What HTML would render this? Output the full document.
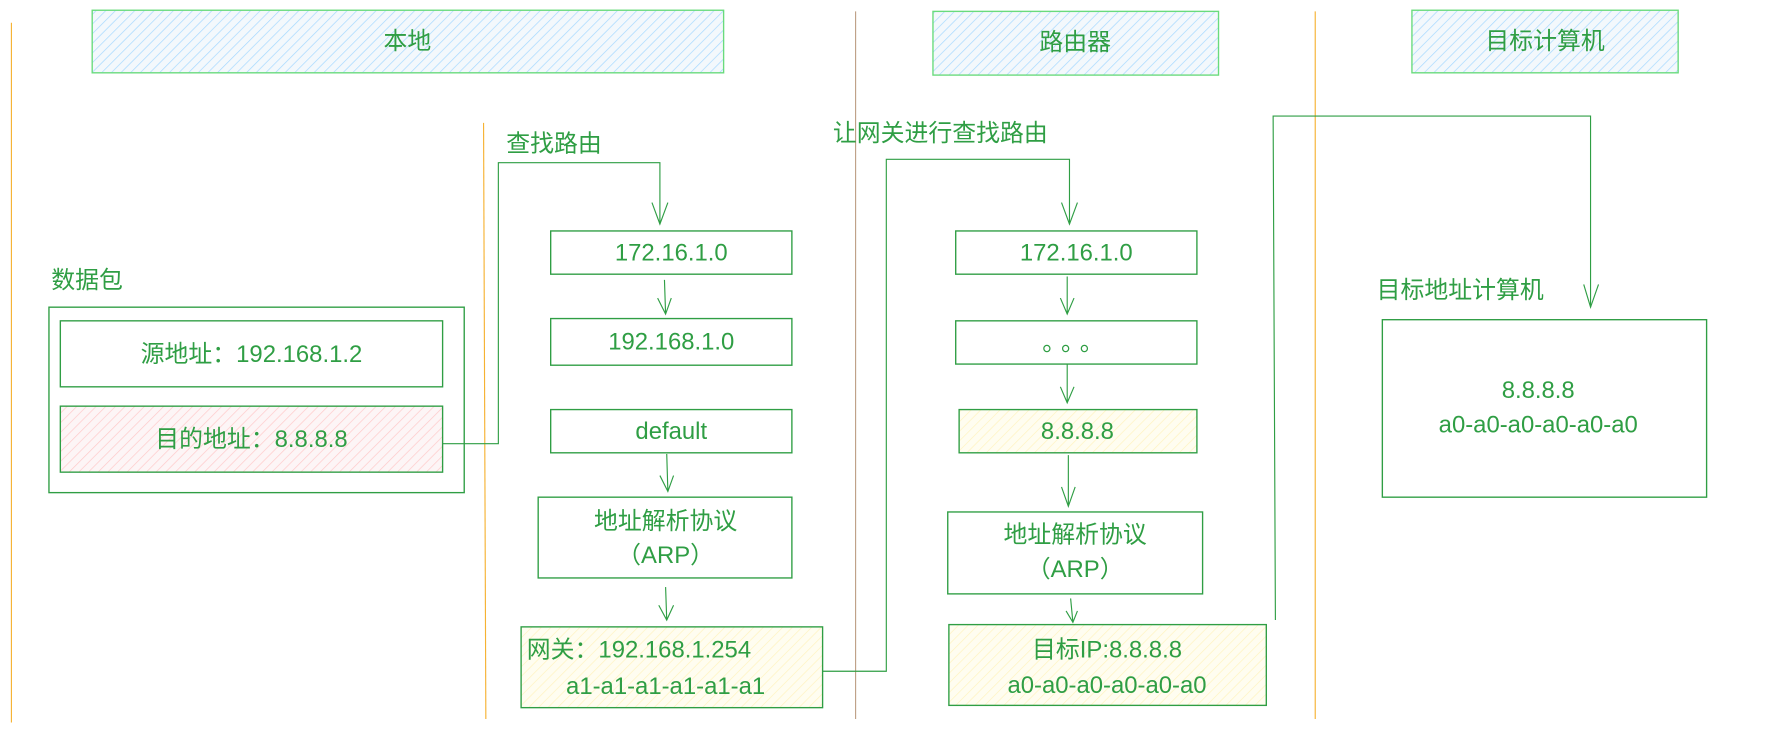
<!DOCTYPE html>
<html><head><meta charset="utf-8"><style>
html,body{margin:0;padding:0;background:#fff;width:1784px;height:732px;overflow:hidden}
svg{display:block}
text{font-family:"Liberation Sans","Noto Sans CJK SC",sans-serif;fill:#2f9e44;font-size:21px}
</style></head><body>
<svg width="1784" height="732" viewBox="0 0 1568 643.4" xmlns="http://www.w3.org/2000/svg">
<defs>
<pattern id="blue" width="6" height="6" patternUnits="userSpaceOnUse" patternTransform="rotate(45)"><rect width="6" height="6" fill="#f3f8fc"/><line x1="0" y1="0" x2="0" y2="6" stroke="#a5d8ff" stroke-width="1.2"/></pattern>
<pattern id="pink" width="6" height="6" patternUnits="userSpaceOnUse" patternTransform="rotate(45)"><rect width="6" height="6" fill="#fdf5f6"/><line x1="0" y1="0" x2="0" y2="6" stroke="#ffc9c9" stroke-width="1.2"/></pattern>
<pattern id="yel" width="6" height="6" patternUnits="userSpaceOnUse" patternTransform="rotate(45)"><rect width="6" height="6" fill="#fffdf0"/><line x1="0" y1="0" x2="0" y2="6" stroke="#fff3bf" stroke-width="1.2"/></pattern>
</defs>
<g stroke="#f59f00" stroke-width="1" opacity="0.8">
<line x1="10" y1="20" x2="10" y2="635"/>
<line x1="425" y1="108" x2="427" y2="632"/>
<line x1="752" y1="10" x2="752" y2="632" stroke="#b08968"/>
<line x1="1156" y1="10" x2="1156" y2="632"/>
</g>
<g stroke="#2f9e44" stroke-width="1.2" fill="none">
<rect x="81" y="9" width="555" height="55" fill="url(#blue)" stroke="#69db7c"/>
<rect x="820" y="10" width="251" height="56" fill="url(#blue)" stroke="#69db7c"/>
<rect x="1241" y="9" width="234" height="55" fill="url(#blue)" stroke="#69db7c"/>
<rect x="43" y="270" width="365" height="163"/>
<rect x="53" y="282" width="336" height="58"/>
<rect x="53" y="357" width="336" height="58" fill="url(#pink)"/>
<rect x="484" y="203" width="212" height="38"/>
<rect x="484" y="280" width="212" height="41"/>
<rect x="484" y="360" width="212" height="38"/>
<rect x="473" y="437" width="223" height="71"/>
<rect x="458" y="551" width="265" height="71" fill="url(#yel)"/>
<rect x="840" y="203" width="212" height="38"/>
<rect x="840" y="282" width="212" height="38"/>
<rect x="843" y="360" width="209" height="38" fill="url(#yel)"/>
<rect x="833" y="450" width="224" height="72"/>
<rect x="834" y="549" width="279" height="71" fill="url(#yel)"/>
<rect x="1215" y="281" width="285" height="156"/>
<g stroke-width="1">
<polyline points="389,390 438,390 438,143 580,143 580,197"/>
<path d="M573,178 L580,197 L587,178"/>
<path d="M584,246 L585,276 M578,262 L585,276 L590,262"/>
<path d="M586,399 L587,432 M580,418 L587,432 L592,418"/>
<path d="M585,516 L586,545 M579,532 L586,545 L592,532"/>
<polyline points="723,590 779,590 779,140 940,140 940,197"/>
<path d="M933,178 L940,197 L947,178"/>
<path d="M938,243 L938,276 M932,262 L938,276 L944,262"/>
<path d="M938,320 L938,354 M932,340 L938,354 L944,340"/>
<path d="M939,400 L939,445 M933,428 L939,445 L945,428"/>
<path d="M941,526 L943,547 M937,537 L943,547 L947,537"/>
<polyline points="1121,545 1119,102 1398,102 1398,270"/>
<path d="M1392,250 L1398,270 L1405,250"/>
</g>
</g>
<text x="358" y="43" text-anchor="middle">本地</text>
<text x="945" y="44" text-anchor="middle">路由器</text>
<text x="1358" y="43" text-anchor="middle">目标计算机</text>
<text x="45" y="253">数据包</text>
<text x="221" y="318" text-anchor="middle">源地址：192.168.1.2</text>
<text x="221" y="393" text-anchor="middle">目的地址：8.8.8.8</text>
<text x="445" y="133">查找路由</text>
<text x="590" y="229" text-anchor="middle">172.16.1.0</text>
<text x="590" y="307" text-anchor="middle">192.168.1.0</text>
<text x="590" y="386" text-anchor="middle">default</text>
<text x="585" y="465" text-anchor="middle">地址解析协议</text>
<text x="585" y="495" text-anchor="middle">（ARP）</text>
<text x="463" y="578">网关：192.168.1.254</text>
<text x="585" y="610" text-anchor="middle">a1-a1-a1-a1-a1-a1</text>
<text x="732" y="124">让网关进行查找路由</text>
<text x="946" y="229" text-anchor="middle">172.16.1.0</text>
<text x="946" y="308" text-anchor="middle" letter-spacing="6">。。。</text>
<text x="947" y="386" text-anchor="middle">8.8.8.8</text>
<text x="945" y="477" text-anchor="middle">地址解析协议</text>
<text x="945" y="507" text-anchor="middle">（ARP）</text>
<text x="973" y="578" text-anchor="middle">目标IP:8.8.8.8</text>
<text x="973" y="609" text-anchor="middle">a0-a0-a0-a0-a0-a0</text>
<text x="1210" y="262">目标地址计算机</text>
<text x="1352" y="350" text-anchor="middle">8.8.8.8</text>
<text x="1352" y="380" text-anchor="middle">a0-a0-a0-a0-a0-a0</text>
</svg>
</body></html>
